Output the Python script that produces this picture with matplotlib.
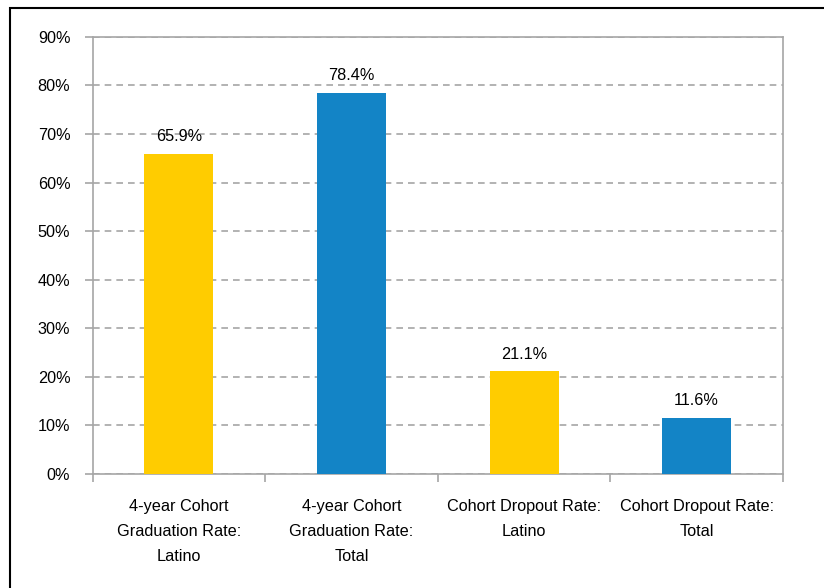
import matplotlib
matplotlib.use("Agg")
import matplotlib.pyplot as plt
from matplotlib.patches import Rectangle
from matplotlib.ticker import PercentFormatter

# datos
categorias = ["4-year Cohort\nGraduation Rate:\nLatino",
              "4-year Cohort\nGraduation Rate:\nTotal",
              "Cohort Dropout Rate:\nLatino",
              "Cohort Dropout Rate:\nTotal"]
valores = [65.9, 78.4, 21.1, 11.6]
colores = ["#FFCC00", "#1384C6", "#FFCC00", "#1384C6"]
ticksY = [0, 10, 20, 30, 40, 50, 60, 70, 80, 90]

plt.rcParams['font.family'] = ['Liberation Sans', 'DejaVu Sans']
gris = "#A6A6A6"
fs = 11.7

fig = plt.figure(figsize=(8.24, 5.88), dpi=100)
ax = fig.add_axes([0.1123, 0.1939, 0.8379, 0.7435])

# marco de la figura (solo arriba e izquierda visibles)
fig.patches.append(Rectangle((9.5 / 824, -0.5), 2.0, 1.5 - 7.5 / 588,
                             transform=fig.transFigure, fill=False,
                             edgecolor="black", linewidth=1.5))

pos = list(range(len(valores)))
barras = ax.bar(pos, valores, width=0.40, color=colores, zorder=3)

for b, v in zip(barras, valores):
    ax.annotate("%.1f%%" % v, (b.get_x() + b.get_width() / 2, v),
                xytext=(0, 7), textcoords="offset points",
                ha="center", va="bottom", fontsize=fs, color="black")

ax.set_ylim(0, 90)
ax.set_xlim(-0.5, len(valores) - 0.5)
ax.set_yticks(ticksY)
ax.yaxis.set_major_formatter(PercentFormatter(decimals=0))
ax.yaxis.grid(True, linestyle=(0, (4, 3)), color=gris, linewidth=1.2, zorder=0)

ax.set_xticks(pos)
ax.set_xticklabels(categorias, fontsize=fs, linespacing=1.83)
ax.set_xticks([p - 0.5 for p in pos] + [len(valores) - 0.5], minor=True)
ax.tick_params(axis="x", which="major", length=0, pad=18)
ax.tick_params(axis="x", which="minor", length=6, width=1.2, color=gris)
ax.tick_params(axis="y", length=6, width=1.2, color=gris, pad=10,
               labelsize=fs)

for s in ax.spines.values():
    s.set_color(gris)
    s.set_linewidth(1.2)

fig.savefig("out.png", dpi=100)
